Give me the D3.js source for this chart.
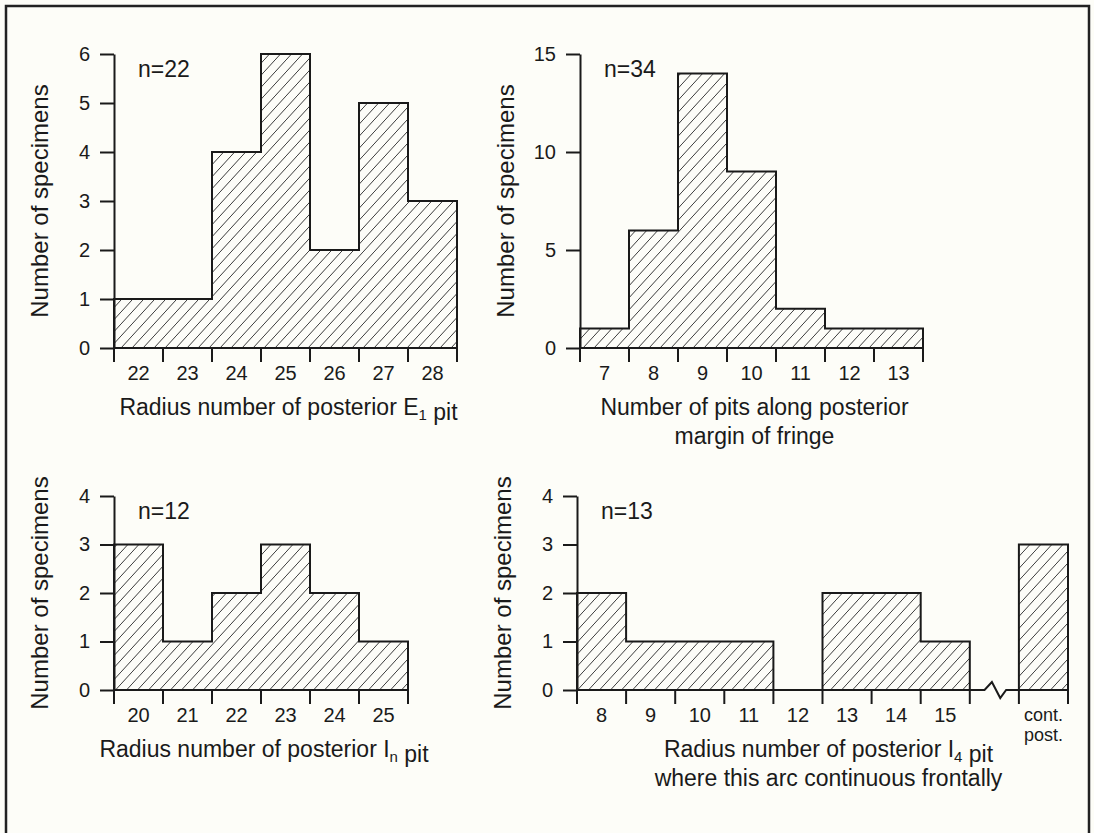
<!DOCTYPE html>
<html>
<head>
<meta charset="utf-8">
<script src="https://cdn.jsdelivr.net/npm/d3@7"></script>
<style>
  body { margin: 0; background: #fdfdf8; }
  svg { display: block; font-family: "Liberation Sans", Arial, Helvetica, sans-serif; }
  .axis path, .axis line { stroke: #1a1a1a; stroke-width: 2; }
  .axis text { fill: #1a1a1a; }
  .title { font-size: 23px; fill: #1a1a1a; }
  .ytitle { font-size: 24px; fill: #1a1a1a; }
  .ntext { font-size: 23px; fill: #1a1a1a; }
</style>
</head>
<body>
<svg width="1094" height="833"></svg>
<script>
// values
const e1Bins = ['22', '23', '24', '25', '26', '27', '28'];
const e1Counts = [1, 1, 4, 6, 2, 5, 3];
const e1Ticks = [0, 1, 2, 3, 4, 5, 6];

const pitBins = ['7', '8', '9', '10', '11', '12', '13'];
const pitCounts = [1, 6, 14, 9, 2, 1, 1];
const pitTicks = [0, 5, 10, 15];

const inBins = ['20', '21', '22', '23', '24', '25'];
const inCounts = [3, 1, 2, 3, 2, 1];
const inTicks = [0, 1, 2, 3, 4];

const i4Bins = ['8', '9', '10', '11', '12', '13', '14', '15', 'gap', 'cont'];
const i4Counts = [2, 1, 1, 1, 0, 2, 2, 1, null, 3]; // null = axis break slot
const i4Labels = ['8', '9', '10', '11', '12', '13', '14', '15', '', 'cont.'];
const i4Ticks = [0, 1, 2, 3, 4];

const svg = d3.select('svg');

// hatch fill used by every bar
svg.append('defs').append('pattern')
  .attr('id', 'hatch')
  .attr('patternUnits', 'userSpaceOnUse')
  .attr('width', 11).attr('height', 12)
  .append('path')
  .attr('d', 'M0,12 L11,0 M-1,1 L1,-1 M10,13 L12,11')
  .attr('stroke', '#3a3a3a').attr('stroke-width', 1);

// outer frame (runs off the bottom of the page)
svg.append('rect')
  .attr('x', 6).attr('y', 6).attr('width', 1083).attr('height', 900)
  .attr('fill', 'none').attr('stroke', '#222').attr('stroke-width', 2.5);

function drawPanel(opt) {
  const x = d3.scaleBand().domain(opt.bins).range([opt.x0, opt.x1]).padding(0);
  const y = d3.scaleLinear().domain([0, d3.max(opt.ticks)]).range([opt.yBase, opt.yTop]);
  const bw = x.bandwidth();
  const g = svg.append('g');

  // split counts into runs (break slot = null)
  const runs = [];
  let cur = [];
  opt.bins.forEach((b, i) => {
    if (opt.counts[i] == null) { if (cur.length) runs.push(cur); cur = []; }
    else cur.push({bin: b, v: opt.counts[i]});
  });
  if (cur.length) runs.push(cur);

  const line = d3.line();
  runs.forEach(run => {
    const pts = [[x(run[0].bin), y(0)]];
    run.forEach(d => { pts.push([x(d.bin), y(d.v)]); pts.push([x(d.bin) + bw, y(d.v)]); });
    pts.push([x(run[run.length - 1].bin) + bw, y(0)]);
    g.append('path')
      .attr('d', line(pts) + 'Z')
      .attr('fill', 'url(#hatch)')
      .attr('stroke', '#1a1a1a').attr('stroke-width', 2)
      .attr('stroke-linejoin', 'miter');
  });

  // y axis
  const yAxis = g.append('g').classed('axis', true)
    .attr('transform', `translate(${opt.x0},0)`)
    .call(d3.axisLeft(y).tickValues(opt.ticks).tickFormat(d3.format('d'))
      .tickSize(14).tickPadding(10).tickSizeOuter(0));
  yAxis.attr('font-family', null).attr('font-size', 20);

  // x baseline, with optional break before the given bin
  const base = g.append('g').classed('axis', true);
  let d = `M${opt.x0},${y(0)}`;
  if (opt.breakBin) {
    const bx = x(opt.breakBin);
    d += `H${bx + bw * 0.3}L${bx + bw * 0.45},${y(0) - 8}L${bx + bw * 0.62},${y(0) + 8}L${bx + bw * 0.74},${y(0)}`;
  }
  d += `H${opt.x1}`;
  base.append('path').attr('d', d).attr('fill', 'none');

  // bin edge ticks
  const edges = opt.bins.map(b => x(b)).concat([x(opt.bins[opt.bins.length - 1]) + bw]);
  base.selectAll('line').data(edges).enter().append('line')
    .attr('x1', e => e).attr('x2', e => e)
    .attr('y1', y(0)).attr('y2', y(0) + 14);

  // bin labels centred in bins
  const xAxis = g.append('g').classed('axis', true)
    .attr('transform', `translate(0,${y(0)})`)
    .call(d3.axisBottom(x).tickSize(0).tickPadding(18)
      .tickFormat((b, i) => opt.labels ? opt.labels[i] : b));
  xAxis.attr('font-family', null).attr('font-size', 20);
  xAxis.select('.domain').remove();
  if (opt.labels) {
    // 'cont. / post.' stacked in a smaller size
    xAxis.selectAll('.tick text').filter(t => t === 'cont')
      .attr('font-size', 18)
      .text(null)
      .call(t => {
        t.append('tspan').attr('x', 0).text('cont.');
        t.append('tspan').attr('x', 0).attr('dy', '1.1em').text('post.');
      });
  }

  // y title
  g.append('text').classed('ytitle', true)
    .attr('transform', `translate(${opt.x0 - 66},${(opt.yTop + opt.yBase) / 2}) rotate(-90)`)
    .attr('text-anchor', 'middle')
    .text('Number of specimens');

  // x title lines, subscript written as [..]
  opt.title.forEach((t, i) => {
    const txt = g.append('text').classed('title', true)
      .attr('x', (opt.x0 + opt.x1) / 2 + (opt.titleShift || 3))
      .attr('y', y(0) + 67 + i * 29)
      .attr('text-anchor', 'middle');
    t.split(/(\[[^\]]+\])/).forEach(part => {
      if (part.startsWith('[')) {
        txt.append('tspan').attr('font-size', 15).attr('dy', 5).text(part.slice(1, -1));
        txt.append('tspan').attr('dy', -5).text('');
      } else {
        txt.append('tspan').text(part);
      }
    });
  });

  // sample size
  g.append('text').classed('ntext', true)
    .attr('x', opt.x0 + 24).attr('y', opt.yTop + 23)
    .text(opt.n);
}

drawPanel({bins: e1Bins, counts: e1Counts, ticks: e1Ticks, n: 'n=22',
  x0: 114, x1: 457, yTop: 54, yBase: 348,
  title: ['Radius number of posterior E[1] pit']});

drawPanel({bins: pitBins, counts: pitCounts, ticks: pitTicks, n: 'n=34',
  x0: 580, x1: 923, yTop: 54, yBase: 348,
  title: ['Number of pits along posterior', 'margin of fringe']});

drawPanel({bins: inBins, counts: inCounts, ticks: inTicks, n: 'n=12',
  x0: 114, x1: 408, yTop: 496, yBase: 690,
  title: ['Radius number of posterior I[n] pit']});

drawPanel({bins: i4Bins, counts: i4Counts, ticks: i4Ticks, n: 'n=13', labels: i4Labels,
  breakBin: 'gap', titleShift: 6,
  x0: 577, x1: 1068, yTop: 496, yBase: 690,
  title: ['Radius number of posterior I[4] pit', 'where this arc continuous frontally']});
</script>
</body>
</html>
